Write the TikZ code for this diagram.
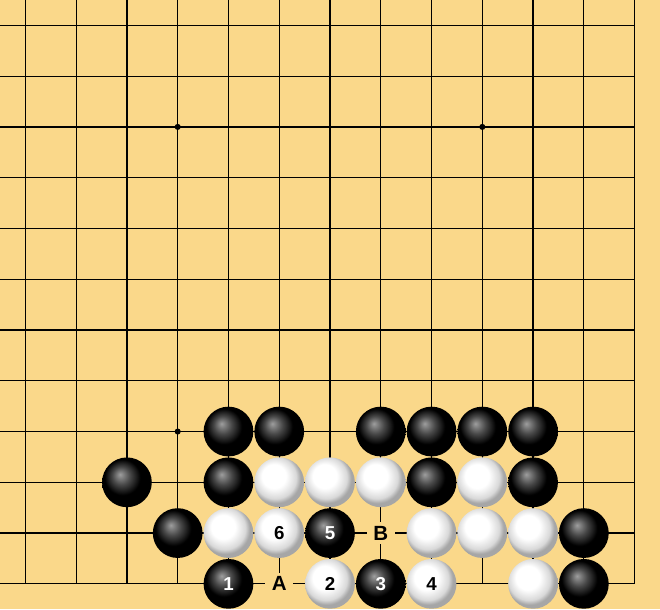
\documentclass[tikz,border=0pt]{standalone}
\usepackage{xcolor}
\usepackage{fontspec}
\setmainfont{Liberation Sans}
\usepackage{tikz}
\usetikzlibrary{shapes,positioning}
\definecolor{boardYellow}{RGB}{250,216,138}
\pgfdeclareradialshading{blackBall}{\pgfpoint{-7bp}{8bp}}{color(0bp)=(black!38!white); color(9bp)=(black!72!white); color(18bp)=(black); color(25bp)=(black); color(50bp)=(black)}
\pgfdeclareradialshading{whiteBall}{\pgfpoint{-7bp}{8bp}}{color(0bp)=(white); color(12bp)=(white); color(21bp)=(black!15!white); color(25bp)=(black!35!white); color(50bp)=(black!35!white)}
\tikzstyle{blackStone} = [circle, shade, shading=blackBall, minimum size=0.98cm, inner sep=0pt, text=white, font=\fontsize{10.5}{12}\selectfont\bfseries]
\tikzstyle{whiteStone} = [circle, shade, shading=whiteBall, minimum size=0.98cm, inner sep=0pt, text=black, font=\fontsize{10.5}{12}\selectfont\bfseries]
\tikzstyle{letterMark} = [rectangle, fill=boardYellow, minimum width=0.55cm, minimum height=0.43cm, inner sep=0pt, font=\fontsize{11.5}{12}\selectfont\bfseries]
\tikzstyle{hoshi} = [circle, fill=black, minimum size=0.12cm, inner sep=0pt]
\tikzstyle{gridline} = [draw, line width=0.7pt]
\begin{document}
\begin{tikzpicture}[node distance = 1cm]
    \useasboundingbox (-0.5,-0.5) rectangle (12.5,11.5);
    \fill [boardYellow] (-0.5,-0.5) rectangle (12.5,11.5);
    % Board
    \draw [gridline] (-0.5,0) grid (12,11.5);
    \node [hoshi] (hoshiTL) at (3,9) {};
    \node [hoshi, right of=hoshiTL, node distance=6cm] (hoshiTR) {};
    \node [hoshi, below of=hoshiTL, node distance=6cm] (hoshiBL) {};

    % Place stones
    \node [blackStone] (r3c4) at (4,3) {};
    \node [blackStone, right of=r3c4] (r3c5) {};
    \node [blackStone, right of=r3c5, node distance=2cm] (r3c7) {};
    \node [blackStone, right of=r3c7] (r3c8) {};
    \node [blackStone, right of=r3c8] (r3c9) {};
    \node [blackStone, right of=r3c9] (r3c10) {};

    \node [blackStone] (r2c2) at (2,2) {};
    \node [blackStone, below of=r3c4] (r2c4) {};
    \node [whiteStone, right of=r2c4] (r2c5) {};
    \node [whiteStone, right of=r2c5] (r2c6) {};
    \node [whiteStone, right of=r2c6] (r2c7) {};
    \node [blackStone, right of=r2c7] (r2c8) {};
    \node [whiteStone, right of=r2c8] (r2c9) {};
    \node [blackStone, right of=r2c9] (r2c10) {};

    \node [blackStone] (r1c3) at (3,1) {};
    \node [whiteStone, below of=r2c4] (r1c4) {};
    \node [whiteStone, right of=r1c4] (move6) {6};
    \node [blackStone, right of=move6] (move5) {5};
    \node [letterMark, right of=move5] (markB) {B};
    \node [whiteStone, right of=markB] (r1c8) {};
    \node [whiteStone, right of=r1c8] (r1c9) {};
    \node [whiteStone, right of=r1c9] (r1c10) {};
    \node [blackStone, right of=r1c10] (r1c11) {};

    \node [blackStone, below of=r1c4] (move1) {1};
    \node [letterMark, right of=move1] (markA) {A};
    \node [whiteStone, right of=markA] (move2) {2};
    \node [blackStone, right of=move2] (move3) {3};
    \node [whiteStone, right of=move3] (move4) {4};
    \node [whiteStone, right of=move4, node distance=2cm] (r0c10) {};
    \node [blackStone, right of=r0c10] (r0c11) {};
\end{tikzpicture}
\end{document}
